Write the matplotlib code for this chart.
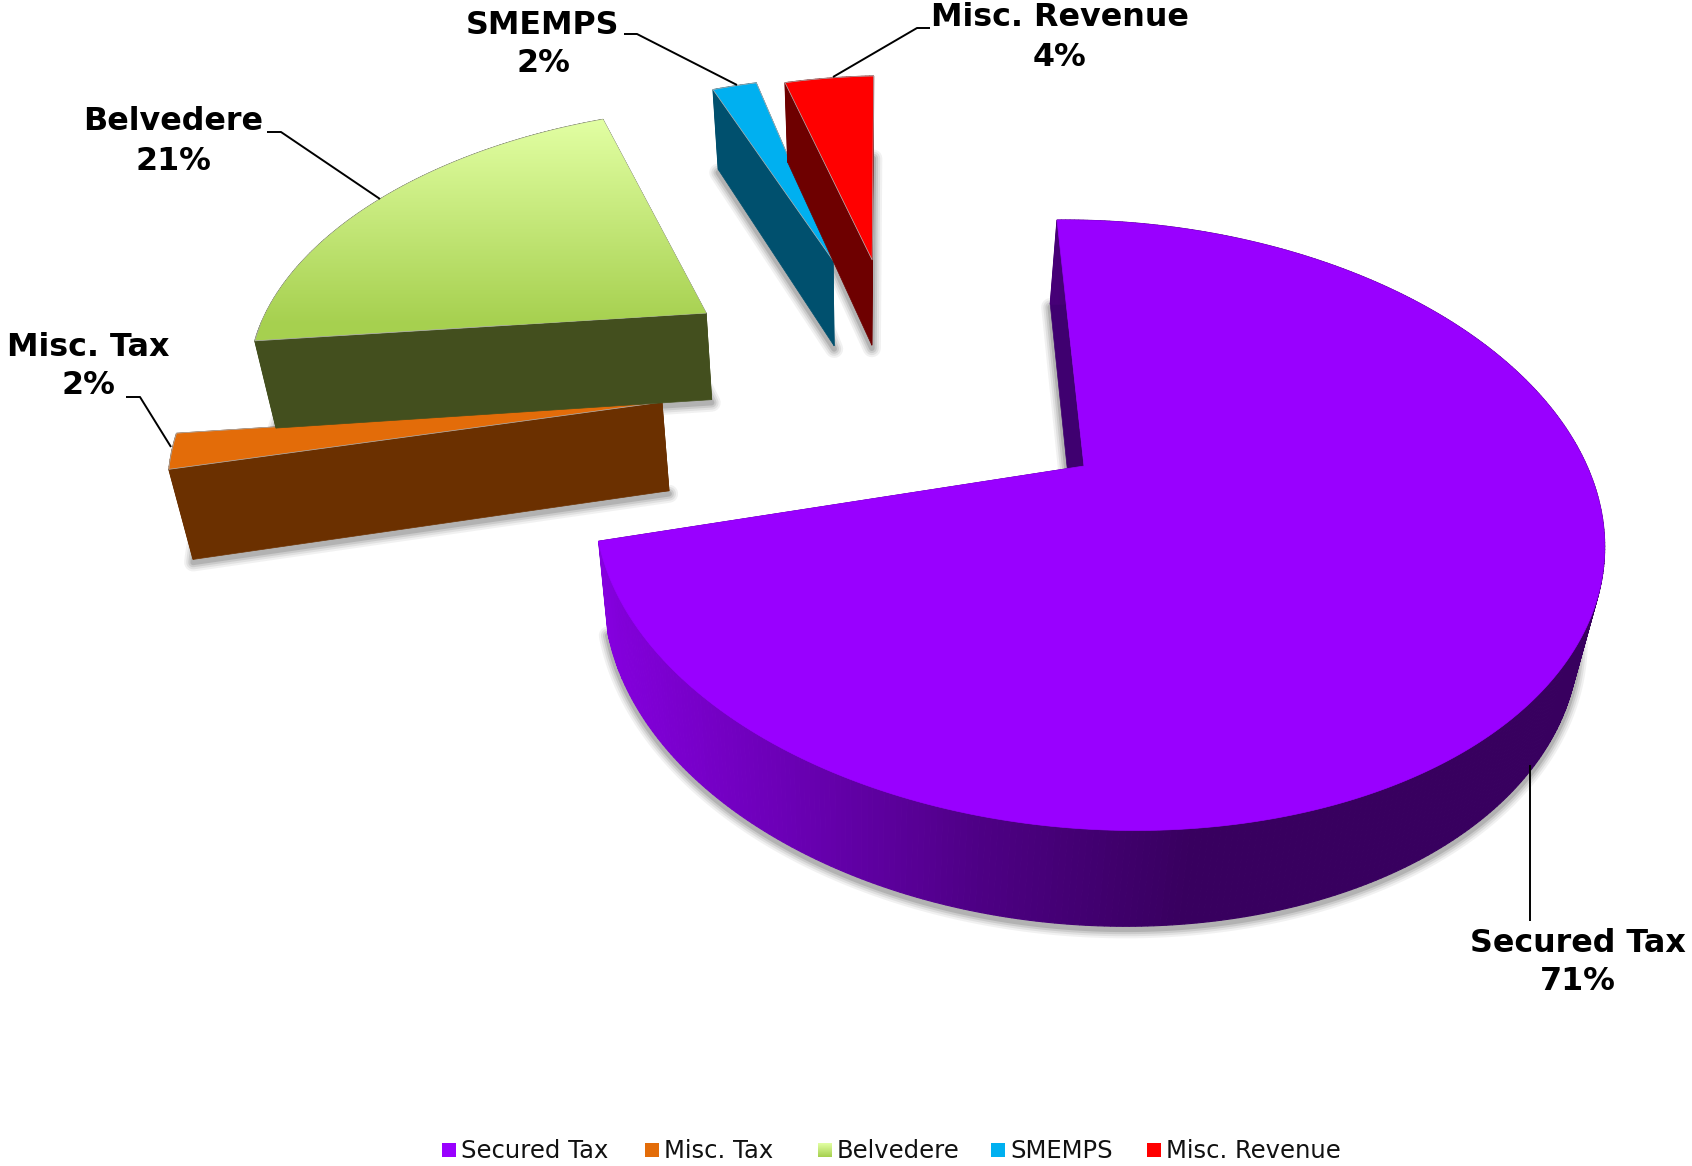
import numpy as np
import matplotlib
matplotlib.use('Agg')
import matplotlib.pyplot as plt
from matplotlib.colors import LinearSegmentedColormap
from matplotlib.patches import Polygon

# Revenue shares
categories = ['Secured Tax', 'Misc. Tax', 'Belvedere', 'SMEMPS', 'Misc. Revenue']
shares = [71, 2, 21, 2, 4]
top_colors = ['#9900FF', '#E36C09', '#A6D04F', '#00B0F0', '#FF0000']
face_colors = ['#3F0070', '#6B3000', '#434F1E', '#00506E', '#6E0000']

# How far each slice was pulled out of the pie, in radii
offset_x = [0.0, -0.891, -0.825, -0.540, -0.447]
offset_y = [0.0, 0.230, 0.587, 0.816, 0.818]
radius = [1.0, 1.05, 1.04, 0.985, 0.985]
turn = [0.0, 1.0, 1.2, 0.0, -0.8]

# Perspective of the pie plane
VX, VY = 918.0, -1048.0
A, B, C, S, G, H = 1514.0, 166.0, -27.0, 491.0, 0.194, 0.018
SQUEEZE_X = 863.0
SQUEEZE_K = 0.035


def project(x, y):
    w = 1 + G * y - H * x
    return VX + (B + S * x) / w, VY + (A + C * x) / w


def drop(u, v, x, y):
    # bottom edge of the slab under a point of the top surface
    w = 1 + G * y
    return u + (SQUEEZE_X - u) * SQUEEZE_K, v + 120 - 30 * w


fig = plt.figure(figsize=(16.92, 11.66), dpi=100)
ax = fig.add_axes([0, 0, 1, 1])
ax.set_xlim(0, 1692)
ax.set_ylim(1166, 0)
ax.axis('off')

wall_cmap = LinearSegmentedColormap.from_list(
    'wall', ['#8600E0', '#6A00B4', '#4C0082', '#38005F', '#38005F'])
belv_cmap = LinearSegmentedColormap.from_list('belv', ['#E2FFA3', '#A6D04F'])

starts = np.cumsum([0] + shares[:-1]) * 3.6

for i in range(len(shares)):
    a0 = starts[i] + turn[i]
    a1 = a0 + shares[i] * 3.6
    th = np.radians(np.linspace(a0, a1, max(int(shares[i] * 6), 12)))
    x = offset_x[i] + radius[i] * np.sin(th)
    y = offset_y[i] + radius[i] * np.cos(th)
    x_all = np.r_[offset_x[i], x]
    y_all = np.r_[offset_y[i], y]
    u, v = project(x_all, y_all)
    ub, vb = drop(u, v, x_all, y_all)

    # soft shadow around the slab's underside, below every slice
    for lw, al in zip([13, 10, 7, 4], [0.08, 0.1, 0.14, 0.2]):
        ax.add_patch(Polygon(np.c_[ub, vb + 3], closed=True, fill=False,
                             ec='#505050', lw=lw, alpha=al, joinstyle='round', zorder=1))

    # the two straight cut faces
    for k in [1, len(u) - 1]:
        q = [(u[0], v[0]), (u[k], v[k]), (ub[k], vb[k]), (ub[0], vb[0])]
        ax.add_patch(Polygon(q, closed=True, fc=face_colors[i], ec=face_colors[i],
                             lw=0.5, zorder=2.1 + i))

    # outer wall
    for k in range(1, len(u) - 1):
        if i == 0:
            col = wall_cmap(np.clip((u[k] - 590) / (1400 - 590), 0, 1))
        else:
            col = face_colors[i]
        q = [(u[k], v[k]), (u[k + 1], v[k + 1]), (ub[k + 1], vb[k + 1]), (ub[k], vb[k])]
        ax.add_patch(Polygon(q, closed=True, fc=col, ec=col, lw=0.8, zorder=2.2 + i))

    # top surface
    edge = top_colors[i] if i == 0 else '#B4B4B4'
    top = Polygon(np.c_[u, v], closed=True, fc=top_colors[i], ec=edge, lw=0.5, zorder=2.3 + i)
    ax.add_patch(top)
    if categories[i] == 'Belvedere':
        grad = np.linspace(0, 1, 256).reshape(-1, 1)
        im = ax.imshow(grad, cmap=belv_cmap, extent=(u.min(), u.max(), 325, v.min()),
                       aspect='auto', zorder=2.35 + i, interpolation='bilinear')
        im.set_clip_path(top)
        ax.set_xlim(0, 1692)
        ax.set_ylim(1166, 0)

# Data labels and their leader lines
label_font = dict(family='DejaVu Sans', fontweight='bold', fontsize=22.9, ha='center',
                  va='center', color='black', zorder=20)
label_x = [1578, 88, 173, 543, 1060]
label_y = [943, 347, 122, 25, 18]
for i in range(5):
    ax.text(label_x[i], label_y[i], categories[i], **label_font)
    ax.text(label_x[i], label_y[i] + 39, f'{shares[i]}%', **label_font)

leaders = [
    ([1530, 1530], [921, 765]),
    ([126, 140, 171], [397, 397, 447]),
    ([267, 281, 380], [132, 132, 199]),
    ([624, 637, 737], [34, 34, 85]),
    ([930, 917, 833], [28, 28, 77]),
]
for lx, ly in leaders:
    ax.plot(lx, ly, color='black', lw=1.4, zorder=21, solid_capstyle='butt')

# Legend along the bottom
marker_x = [442, 645, 818, 991, 1147]
for i in range(5):
    if categories[i] == 'Belvedere':
        grad = np.linspace(0, 1, 32).reshape(-1, 1)
        ax.imshow(grad, cmap=belv_cmap, aspect='auto', zorder=10,
                  extent=(marker_x[i], marker_x[i] + 14, 1157, 1143))
        ax.set_xlim(0, 1692)
        ax.set_ylim(1166, 0)
    else:
        ax.add_patch(Polygon([(marker_x[i], 1143), (marker_x[i] + 14, 1143),
                              (marker_x[i] + 14, 1157), (marker_x[i], 1157)],
                             closed=True, fc=top_colors[i], ec='none', zorder=10))
    ax.text(marker_x[i] + 19, 1151, categories[i], family='DejaVu Sans', fontsize=17.5,
            ha='left', va='center', color='#111111', zorder=20)

fig.savefig('out.png', dpi=100, facecolor='white')
